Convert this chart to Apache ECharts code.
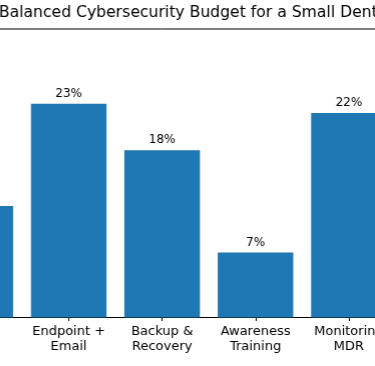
<!DOCTYPE html>
<html>
<head>
<meta charset="utf-8">
<script src="https://cdn.jsdelivr.net/npm/echarts@6/dist/echarts.min.js"></script>
<style>
  html, body { margin: 0; padding: 0; background: #fff; width: 375px; height: 366px; overflow: hidden; position: relative; }
  #chart { position: absolute; left: -120.7px; top: 0; width: 565.2px; height: 366px; }
</style>
</head>
<body>
<div id="chart"></div>
<script>
const titleText = "Balanced Cybersecurity Budget for a Small Dental Practice";
const categories = ["Access\nControl", "Endpoint +\nEmail", "Backup &\nRecovery", "Awareness\nTraining", "Monitoring\nMDR"];
const shares = [12, 23, 18, 7, 22];

const yMax = Math.max(...shares) * 1.35;
const barData = shares.map((v, i) => [i, v]);

const chart = echarts.init(document.getElementById('chart'), null, { renderer: 'canvas', width: 565.2, height: 366 });
chart.setOption({
  animation: false,
  backgroundColor: '#ffffff',
  textStyle: { fontFamily: 'DejaVu Sans' },
  title: {
    text: titleText,
    left: 119.7,
    top: 5,
    padding: 0,
    textStyle: { fontFamily: 'DejaVu Sans', fontSize: 15.6, fontWeight: 'normal', color: '#000' }
  },
  grid: {
    left: 0,
    right: 0,
    top: 29,
    bottom: 48.5,
    show: true,
    borderColor: '#000',
    borderWidth: 1,
    backgroundColor: 'transparent'
  },
  xAxis: {
    type: 'value',
    min: -1,
    max: 5,
    interval: 1,
    splitLine: { show: false },
    axisLine: { show: true, lineStyle: { color: '#000', width: 1 } },
    axisTick: { show: true, length: 3.5, lineStyle: { color: '#000', width: 1 } },
    axisLabel: {
      margin: 7,
      fontFamily: 'DejaVu Sans',
      fontSize: 13,
      lineHeight: 14.5,
      color: '#000',
      showMinLabel: true,
      showMaxLabel: true,
      formatter: v => (v >= 0 && v < categories.length && Number.isInteger(v)) ? categories[v] : ''
    }
  },
  yAxis: {
    type: 'value',
    min: 0,
    max: yMax,
    show: false,
    splitLine: { show: false }
  },
  series: [{
    type: 'bar',
    data: barData,
    barWidth: 75.4,
    itemStyle: { color: '#1f77b4' },
    label: {
      show: true,
      position: 'top',
      distance: 4,
      fontFamily: 'DejaVu Sans',
      fontSize: 12,
      color: '#000',
      formatter: p => p.value[1] + '%'
    }
  }]
});
</script>
</body>
</html>
